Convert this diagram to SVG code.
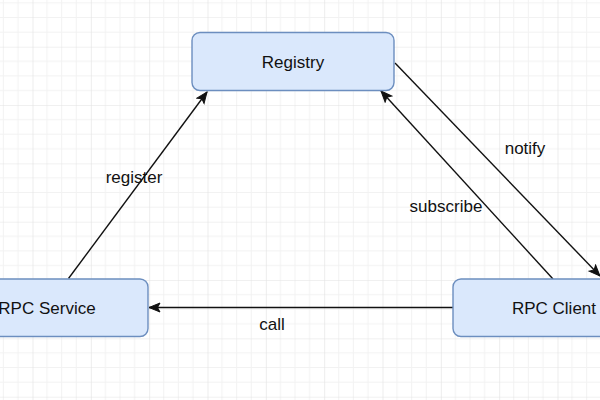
<svg xmlns="http://www.w3.org/2000/svg" width="600" height="400" viewBox="0 0 600 400">
  <style>
    .node rect { fill: #dae8fc; stroke: #6c8ebf; stroke-width: 1.4; }
    .node text, .label { font-family: "Liberation Sans", Arial, Helvetica, sans-serif; font-size: 17px; fill: #111; text-anchor: middle; }
    .edge { stroke: #111; stroke-width: 1.4; fill: none; marker-end: url(#arrow); }
  </style>
  <defs>
    <pattern id="grid" patternUnits="userSpaceOnUse" x="-25.83" y="-11.63" width="58.333" height="58.333">
      <path d="M14.58 0V58.333M29.17 0V58.333M43.75 0V58.333M0 14.58H58.333M0 29.17H58.333M0 43.75H58.333" stroke="#f2f2f2" stroke-width="1"/>
      <path d="M0 0V58.333M0 0H58.333" stroke="#e2e2e2" stroke-width="1.2"/>
    </pattern>
    <marker id="arrow" markerUnits="userSpaceOnUse" markerWidth="14" markerHeight="12" viewBox="0 0 14 12" refX="12" refY="6" orient="auto">
      <path d="M1 1.5 L12 6 L1 10.5 L3.5 6 Z" fill="#111" stroke="#111" stroke-width="1"/>
    </marker>
  </defs>
  <rect width="600" height="400" fill="#ffffff"/>
  <rect width="600" height="400" fill="url(#grid)"/>

  <g id="connectors">
    <g id="edge-register">
      <line class="edge" x1="68.5" y1="278.5" x2="207" y2="92"/>
      <text class="label" x="134" y="183">register</text>
    </g>
    <g id="edge-subscribe">
      <line class="edge" x1="553" y1="279" x2="381" y2="91"/>
      <text class="label" x="446" y="212">subscribe</text>
    </g>
    <g id="edge-notify">
      <line class="edge" x1="395" y1="63" x2="600" y2="276"/>
      <text class="label" x="525" y="154">notify</text>
    </g>
    <g id="edge-call">
      <line class="edge" x1="453" y1="307.5" x2="149" y2="307.5"/>
      <text class="label" x="272" y="330">call</text>
    </g>
  </g>

  <g id="registry" class="node">
    <rect x="192" y="32.5" width="202" height="58" rx="8"/>
    <text x="293" y="67.5">Registry</text>
  </g>
  <g id="rpc-service" class="node">
    <rect x="-54" y="279" width="202" height="57.5" rx="8"/>
    <text x="47" y="314">RPC Service</text>
  </g>
  <g id="rpc-client" class="node">
    <rect x="453" y="279" width="202" height="57.5" rx="8"/>
    <text x="554" y="314">RPC Client</text>
  </g>
</svg>
